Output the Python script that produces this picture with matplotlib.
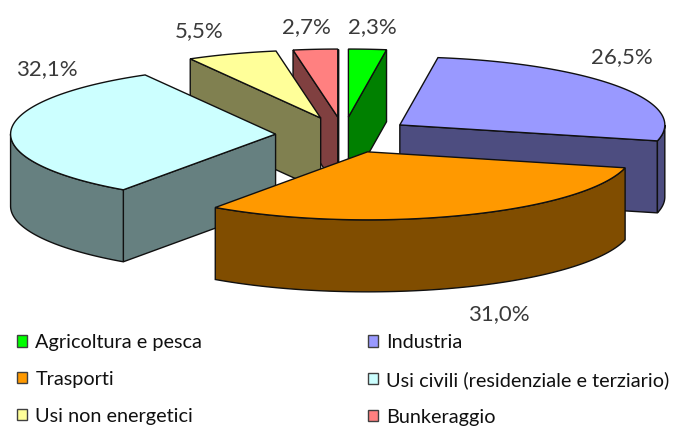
import numpy as np
import matplotlib
matplotlib.use('Agg')
import matplotlib.pyplot as plt
from matplotlib.patches import Patch, Polygon

categories = ['Agricoltura e pesca', 'Industria', 'Trasporti',
              'Usi civili (residenziale e terziario)', 'Usi non energetici', 'Bunkeraggio']
values = [2.3, 26.5, 31.0, 32.1, 5.5, 2.7]
value_labels = ['2,3%', '26,5%', '31,0%', '32,1%', '5,5%', '2,7%']
top_colors = ['#00FF00', '#9999FF', '#FF9900', '#CCFFFF', '#FFFF99', '#FF8080']
side_colors = ['#008000', '#4D4D80', '#804D00', '#668080', '#808050', '#804040']
label_pos = [(372, 27), (622, 57), (499, 314), (47, 69), (199, 31), (306, 27)]
draw_order = [5, 0, 4, 1, 3, 2]  # back to front

# pie geometry in image pixels
CX, CY = 343.5, 135
RX, RY = 265, 68
EX, EY = 68, 18
DEPTH = 72

plt.rcParams['font.family'] = ['Lato', 'DejaVu Sans']
fig = plt.figure(figsize=(6.75, 4.26), dpi=100)
ax = fig.add_axes([0, 0, 1, 1])
ax.set_xlim(0, 675)
ax.set_ylim(426, 0)
ax.axis('off')


def ell(apex, deg):
    a = np.radians(deg)
    return np.column_stack([apex[0] + RX * np.sin(a), apex[1] - RY * np.cos(a)])


def wall(pts, color):
    pts = np.asarray(pts)
    low = pts + [0, DEPTH]
    ax.add_patch(Polygon(np.vstack([pts, low[::-1]]), closed=True, fc=color, ec='#101010', lw=1.0))


edges = np.cumsum([0] + values) / sum(values) * 360

for i in draw_order:
    a0, a1 = edges[i], edges[i + 1]
    mid = np.radians((a0 + a1) / 2)
    apex = (CX + EX * np.sin(mid), CY - EY * np.cos(mid))
    arc = ell(apex, np.linspace(a0, a1, 80))

    # only faces turned to the viewer get a wall
    if arc[0, 0] < apex[0]:
        wall([apex, arc[0]], side_colors[i])
    if arc[-1, 0] > apex[0]:
        wall([arc[-1], apex], side_colors[i])
    lo, hi = max(a0, 90), min(a1, 270)
    if lo < hi:
        wall(ell(apex, np.linspace(lo, hi, 80)), side_colors[i])

    ax.add_patch(Polygon(np.vstack([[apex], arc]), closed=True, fc=top_colors[i], ec='#101010', lw=1.0))

for txt, (x, y) in zip(value_labels, label_pos):
    ax.text(x, y, txt, ha='center', va='center', fontsize=16, color='#3A3A3A')

# legend fills by column, the picture reads by row
order = [0, 2, 4, 1, 3, 5]
handles = [Patch(fc=top_colors[i], ec='#404040', lw=1.0, label=categories[i]) for i in order]
ax.legend(handles=handles, loc='upper left', bbox_to_anchor=(17, 334), bbox_transform=ax.transData,
          ncol=2, frameon=False, fontsize=14.3, handlelength=0.5, handleheight=0.5,
          handletextpad=0.42, labelspacing=1.0, columnspacing=8.35, labelcolor='#101010',
          borderaxespad=0, borderpad=0)

plt.savefig('out.png', dpi=100)
